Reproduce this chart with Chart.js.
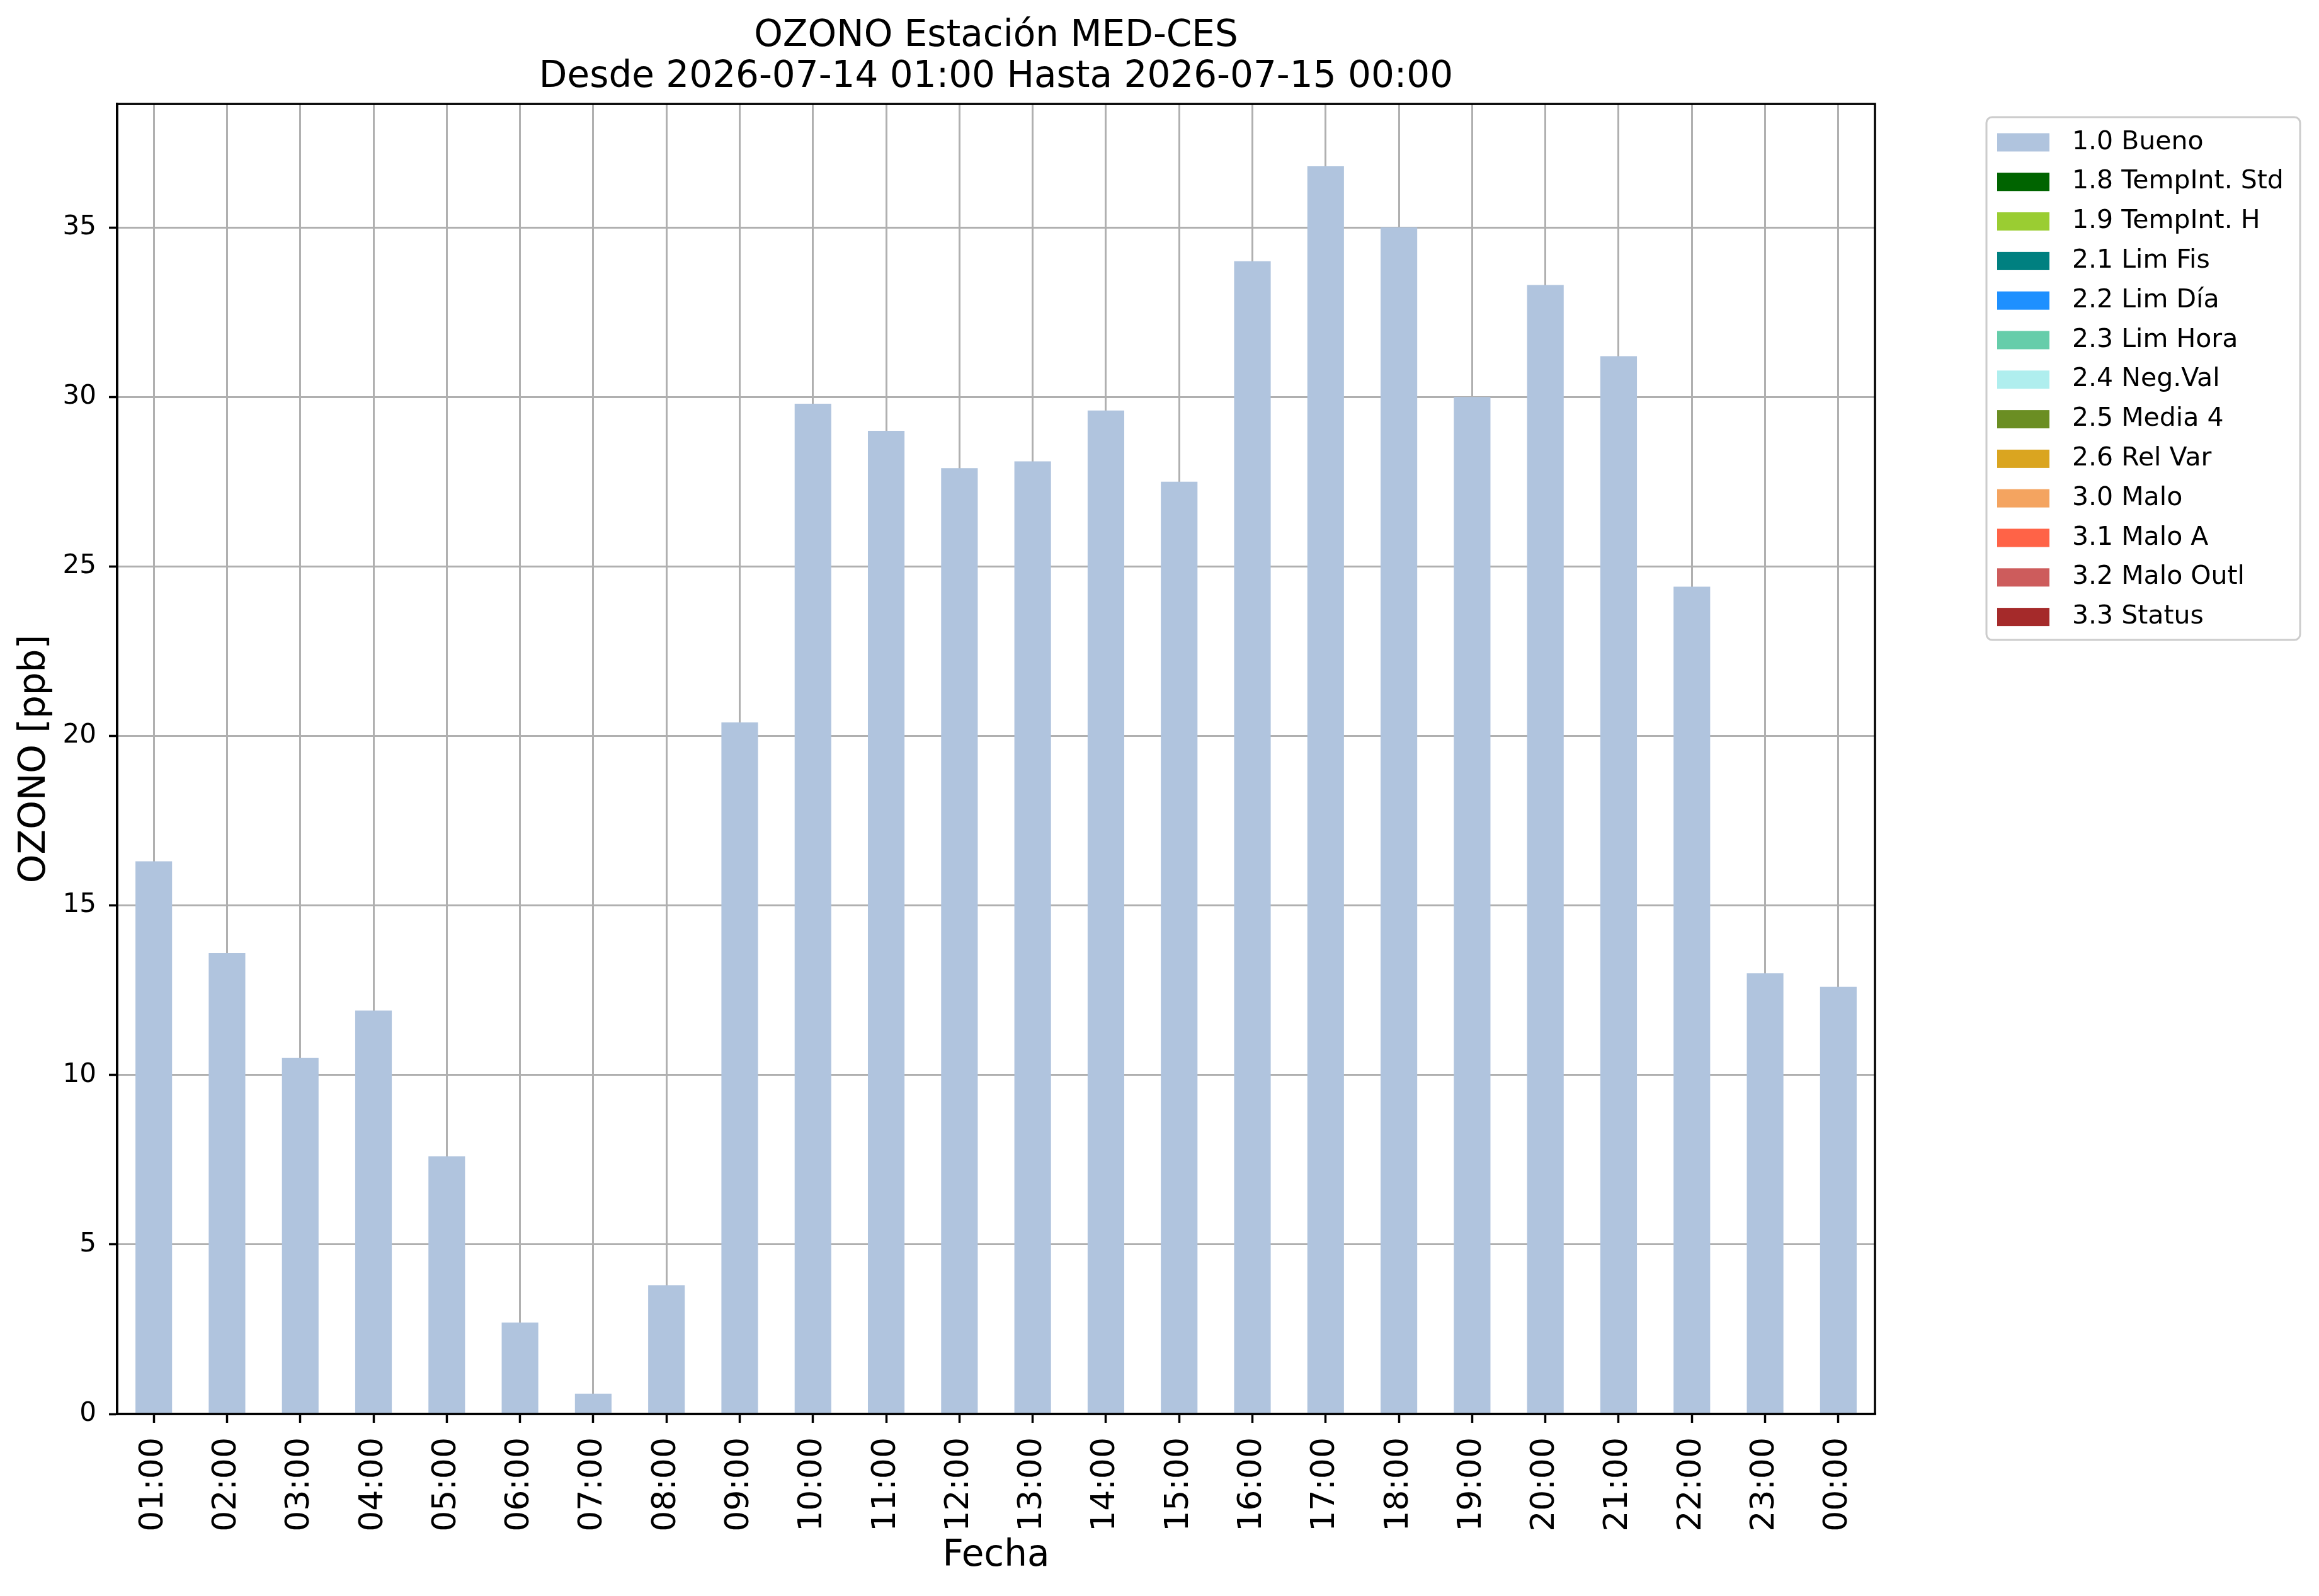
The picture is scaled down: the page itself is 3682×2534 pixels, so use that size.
<!DOCTYPE html>
<html>
<head>
<meta charset="utf-8">
<script src="https://cdn.jsdelivr.net/npm/chart.js@4.4.1/dist/chart.umd.min.js"></script>
<style>
  html, body { margin: 0; padding: 0; background: #fff; }
  canvas { display: block; }
</style>
</head>
<body>
<canvas id="myChart" width="3682" height="2534"></canvas>
<script>
const hours = ['01:00','02:00','03:00','04:00','05:00','06:00','07:00','08:00','09:00','10:00','11:00','12:00',
               '13:00','14:00','15:00','16:00','17:00','18:00','19:00','20:00','21:00','22:00','23:00','00:00'];

// ozone [ppb], all hours flagged 1.0 Bueno
const bueno = [16.3, 13.6, 10.5, 11.9, 7.6, 2.7, 0.6, 3.8, 20.4, 29.8, 29.0, 27.9,
               28.1, 29.6, 27.5, 34.0, 36.8, 35.0, 30.0, 33.3, 31.2, 24.4, 13.0, 12.6];

// flag classes (only the first one has values)
const flagLabels = ['1.0 Bueno','1.8 TempInt. Std','1.9 TempInt. H','2.1 Lim Fis','2.2 Lim Día','2.3 Lim Hora',
                    '2.4 Neg.Val','2.5 Media 4','2.6 Rel Var','3.0 Malo','3.1 Malo A','3.2 Malo Outl','3.3 Status'];
const flagValues = [bueno, [], [], [], [], [], [], [], [], [], [], [], []];

const yMax = 38.64;
const yStep = 5;

const flagColors = ['#B0C4DE','#006400','#9ACD32','#008080','#1E90FF','#66CDAA',
                    '#AFEEEE','#6B8E23','#DAA520','#F4A460','#FF6347','#CD5C5C','#A52A2A'];

const FONT = "'DejaVu Sans', sans-serif";

// black frame round the plot (all four spines)
const frame = {
  id: 'frame',
  afterDraw(chart) {
    const a = chart.chartArea, c = chart.ctx;
    c.save();
    c.strokeStyle = '#000';
    c.lineWidth = 3.5;
    c.strokeRect(a.left, a.top, a.right - a.left, a.bottom - a.top);
    c.restore();
  }
};

// matplotlib-like legend box outside on the right
const boxLegend = {
  id: 'boxLegend',
  afterDraw(chart) {
    const c = chart.ctx;
    const x0 = 3154, y0 = 186, x1 = 3652, y1 = 1016, r = 9;
    c.save();
    c.beginPath();
    c.moveTo(x0 + r, y0);
    c.arcTo(x1, y0, x1, y1, r);
    c.arcTo(x1, y1, x0, y1, r);
    c.arcTo(x0, y1, x0, y0, r);
    c.arcTo(x0, y0, x1, y0, r);
    c.closePath();
    c.fillStyle = 'rgba(255,255,255,0.8)';
    c.fill();
    c.strokeStyle = '#cccccc';
    c.lineWidth = 3;
    c.stroke();
    c.font = '41px ' + FONT;
    c.textBaseline = 'middle';
    c.textAlign = 'left';
    chart.data.datasets.forEach((ds, i) => {
      const y = 226 + i * 62.8;
      c.fillStyle = ds.backgroundColor;
      c.fillRect(3171, y - 14.5, 83, 29);
      c.fillStyle = '#000';
      c.fillText(ds.label, 3290, y);
    });
    c.restore();
  }
};

const ctx = document.getElementById('myChart');

let cc = new Chart(ctx, {
  type: 'bar',
  data: {
    labels: hours,
    datasets: flagLabels.map((lab, i) => ({
      label: lab,
      data: flagValues[i],
      backgroundColor: flagColors[i],
      borderWidth: 0,
      barPercentage: 0.5,
      categoryPercentage: 1.0
    }))
  },
  options: {
    responsive: false,
    animation: false,
    devicePixelRatio: 1,
    layout: { padding: { left: 0, right: 705, top: 0, bottom: 0 } },
    scales: {
      x: {
        stacked: true,
        z: 1,
        offset: true,
        afterFit: s => { s.height = 289; },
        grid: { offset: false, color: '#b0b0b0', lineWidth: 3, tickColor: '#000', tickWidth: 3.5, tickLength: 14 },
        border: { color: '#000', width: 3.5 },
        ticks: { color: '#000', font: { family: FONT, size: 52 }, minRotation: 90, maxRotation: 90, padding: 23, autoSkip: false },
        title: { display: true, text: 'Fecha', color: '#000', font: { family: FONT, size: 58 }, padding: { top: 0, bottom: 28 } }
      },
      y: {
        stacked: true,
        z: 1,
        min: 0,
        max: yMax,
        afterFit: s => { s.width = 186; },
        grid: { color: '#b0b0b0', lineWidth: 3, tickColor: '#000', tickWidth: 3.5, tickLength: 13 },
        border: { color: '#000', width: 3.5 },
        ticks: { stepSize: yStep, includeBounds: false, color: '#000', font: { family: FONT, size: 42 }, padding: 20 },
        title: { display: true, text: 'OZONO [ppb]', color: '#000', font: { family: FONT, size: 58 }, padding: { top: 21, bottom: 0 } }
      }
    },
    plugins: {
      legend: { display: false },
      tooltip: { enabled: false },
      title: {
        display: true,
        fullSize: false,
        text: ['OZONO Estación MED-CES', 'Desde 2026-07-14 01:00 Hasta 2026-07-15 00:00'],
        color: '#000',
        font: { family: FONT, size: 58, weight: 'normal', lineHeight: 1.13 },
        padding: { top: 25, bottom: 9 }
      }
    }
  },
  plugins: [frame, boxLegend]
});
</script>
</body>
</html>
